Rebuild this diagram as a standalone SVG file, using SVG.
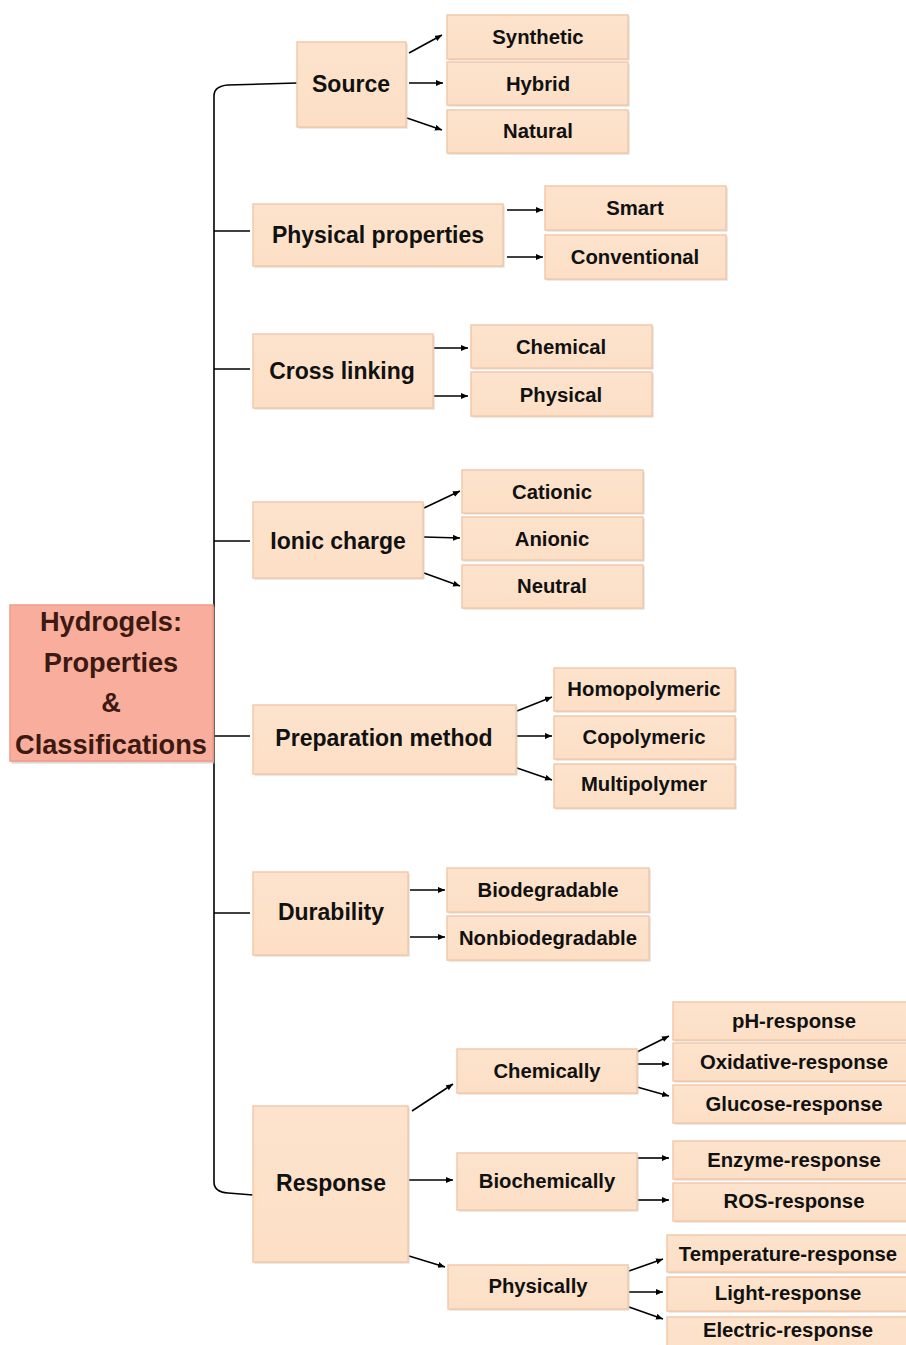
<svg xmlns="http://www.w3.org/2000/svg" width="906" height="1345" viewBox="0 0 906 1345">
<defs>
<marker id="ah" markerUnits="userSpaceOnUse" markerWidth="8" markerHeight="7" refX="7" refY="3" orient="auto">
<path d="M0,0 L7,3 L0,6 z" fill="#000"/>
</marker>
<linearGradient id="g" x1="0" y1="0" x2="0" y2="1">
<stop offset="0" stop-color="#fde3cd"/>
<stop offset="1" stop-color="#fcdfc5"/>
</linearGradient>
</defs>
<style>
.b{fill:url(#g);stroke:#f4c9ab;stroke-width:1.5}
.sh{fill:#cbc3be;opacity:0.7}
.r{fill:#f9ad9c;stroke:#ef9b88;stroke-width:1.5}
.t1{font-family:"Liberation Sans",Arial,sans-serif;font-weight:bold;font-size:23px;fill:#111;text-anchor:middle}
.t2{font-family:"Liberation Sans",Arial,sans-serif;font-weight:bold;font-size:20.3px;fill:#111;text-anchor:middle}
.t0{font-family:"Liberation Sans",Arial,sans-serif;font-weight:bold;font-size:27.2px;fill:#3c1a12;text-anchor:middle}
.c{fill:none;stroke:#000;stroke-width:1.6}
.a{fill:none;stroke:#000;stroke-width:1.6;marker-end:url(#ah)}
</style>
<rect width="906" height="1345" fill="#fff"/>

<g id="connectors">
<path class="c" d="M297,83 L228,85 Q214,86 214,96 L214,1182 Q214,1192 228,1193 L253,1195"/>
<path class="c" d="M214,231 L250,231"/>
<path class="c" d="M214,369 L250,369"/>
<path class="c" d="M214,541 L250,541"/>
<path class="c" d="M214,736 L250,736"/>
<path class="c" d="M214,913 L250,913"/>
<path class="a" d="M409,53 L442,35"/>
<path class="a" d="M409,83 L443,83"/>
<path class="a" d="M407,118 L442,130"/>
<path class="a" d="M507,210 L543,210"/>
<path class="a" d="M507,257 L543,257"/>
<path class="a" d="M434,348 L468,348"/>
<path class="a" d="M434,396 L468,396"/>
<path class="a" d="M424,508 L460,491"/>
<path class="a" d="M424,537 L460,538"/>
<path class="a" d="M424,573 L460,586"/>
<path class="a" d="M517,711 L552,697"/>
<path class="a" d="M517,736 L552,736"/>
<path class="a" d="M517,768 L552,780"/>
<path class="a" d="M410,890 L445,890"/>
<path class="a" d="M410,937 L445,937"/>
<path class="a" d="M412,1111 L453,1084"/>
<path class="a" d="M409,1180 L453,1180"/>
<path class="a" d="M409,1256 L445,1267"/>
<path class="a" d="M637,1052 L669,1036"/>
<path class="a" d="M637,1064 L669,1064"/>
<path class="a" d="M637,1087 L669,1096"/>
<path class="a" d="M637,1158 L669,1158"/>
<path class="a" d="M637,1200 L669,1200"/>
<path class="a" d="M629,1271 L663,1259"/>
<path class="a" d="M629,1292 L663,1292"/>
<path class="a" d="M629,1307 L663,1319"/>
</g>

<g id="root">
<rect class="sh" x="11.5" y="606.5" width="203" height="157"/>
<rect class="r" x="10" y="605" width="203" height="156"/>
<text class="t0" x="111" y="631">Hydrogels:</text>
<text class="t0" x="111" y="672">Properties</text>
<text class="t0" x="111" y="712">&amp;</text>
<text class="t0" x="111" y="754">Classifications</text>
</g>

<g id="source">
<rect class="sh" x="298.5" y="43.5" width="109" height="85"/>
<rect class="b" x="297" y="42" width="109" height="85"/>
<text class="t1" x="351" y="92">Source</text>
</g>
<g id="synthetic"><rect class="sh" x="448.5" y="16.5" width="181" height="44"/><rect class="b" x="447" y="15" width="181" height="44"/><text class="t2" x="538" y="44">Synthetic</text></g>
<g id="hybrid"><rect class="sh" x="448.5" y="63.5" width="181" height="43"/><rect class="b" x="447" y="62" width="181" height="43"/><text class="t2" x="538" y="91">Hybrid</text></g>
<g id="natural"><rect class="sh" x="448.5" y="111.5" width="181" height="43"/><rect class="b" x="447" y="110" width="181" height="43"/><text class="t2" x="538" y="138">Natural</text></g>

<g id="physical-properties">
<rect class="sh" x="254.5" y="205.5" width="250" height="62"/>
<rect class="b" x="253" y="204" width="250" height="62"/>
<text class="t1" x="378" y="243">Physical properties</text>
</g>
<g id="smart"><rect class="sh" x="546.5" y="187.5" width="181" height="44"/><rect class="b" x="545" y="186" width="181" height="44"/><text class="t2" x="635" y="215">Smart</text></g>
<g id="conventional"><rect class="sh" x="546.5" y="236.5" width="181" height="44"/><rect class="b" x="545" y="235" width="181" height="44"/><text class="t2" x="635" y="264">Conventional</text></g>

<g id="cross-linking">
<rect class="sh" x="254.5" y="335.5" width="180" height="74"/>
<rect class="b" x="253" y="334" width="180" height="74"/>
<text class="t1" x="342" y="379">Cross linking</text>
</g>
<g id="chemical"><rect class="sh" x="472.5" y="326.5" width="181" height="43"/><rect class="b" x="471" y="325" width="181" height="43"/><text class="t2" x="561" y="354">Chemical</text></g>
<g id="physical"><rect class="sh" x="472.5" y="373.5" width="181" height="44"/><rect class="b" x="471" y="372" width="181" height="44"/><text class="t2" x="561" y="402">Physical</text></g>

<g id="ionic-charge">
<rect class="sh" x="254.5" y="503.5" width="170" height="76"/>
<rect class="b" x="253" y="502" width="170" height="76"/>
<text class="t1" x="338" y="549">Ionic charge</text>
</g>
<g id="cationic"><rect class="sh" x="463.5" y="471.5" width="181" height="43"/><rect class="b" x="462" y="470" width="181" height="43"/><text class="t2" x="552" y="499">Cationic</text></g>
<g id="anionic"><rect class="sh" x="463.5" y="518.5" width="181" height="43"/><rect class="b" x="462" y="517" width="181" height="43"/><text class="t2" x="552" y="546">Anionic</text></g>
<g id="neutral"><rect class="sh" x="463.5" y="566.5" width="181" height="43"/><rect class="b" x="462" y="565" width="181" height="43"/><text class="t2" x="552" y="593">Neutral</text></g>

<g id="preparation-method">
<rect class="sh" x="254.5" y="706.5" width="263" height="69"/>
<rect class="b" x="253" y="705" width="263" height="69"/>
<text class="t1" x="384" y="746">Preparation method</text>
</g>
<g id="homopolymeric"><rect class="sh" x="555.5" y="669.5" width="181" height="43"/><rect class="b" x="554" y="668" width="181" height="43"/><text class="t2" x="644" y="696">Homopolymeric</text></g>
<g id="copolymeric"><rect class="sh" x="555.5" y="717.5" width="181" height="43"/><rect class="b" x="554" y="716" width="181" height="43"/><text class="t2" x="644" y="744">Copolymeric</text></g>
<g id="multipolymer"><rect class="sh" x="555.5" y="765.5" width="181" height="44"/><rect class="b" x="554" y="764" width="181" height="44"/><text class="t2" x="644" y="791">Multipolymer</text></g>

<g id="durability">
<rect class="sh" x="254.5" y="873.5" width="155" height="83"/>
<rect class="b" x="253" y="872" width="155" height="83"/>
<text class="t1" x="331" y="920">Durability</text>
</g>
<g id="biodegradable"><rect class="sh" x="448.5" y="869.5" width="202" height="44"/><rect class="b" x="447" y="868" width="202" height="44"/><text class="t2" x="548" y="897">Biodegradable</text></g>
<g id="nonbiodegradable"><rect class="sh" x="448.5" y="917.5" width="202" height="44"/><rect class="b" x="447" y="916" width="202" height="44"/><text class="t2" x="548" y="945">Nonbiodegradable</text></g>

<g id="response">
<rect class="sh" x="254.5" y="1107.5" width="155" height="156"/>
<rect class="b" x="253" y="1106" width="155" height="156"/>
<text class="t1" x="331" y="1191">Response</text>
</g>
<g id="chemically"><rect class="sh" x="458.5" y="1050.5" width="180" height="44"/><rect class="b" x="457" y="1049" width="180" height="44"/><text class="t2" x="547" y="1078">Chemically</text></g>
<g id="biochemically"><rect class="sh" x="458.5" y="1154.5" width="180" height="57"/><rect class="b" x="457" y="1153" width="180" height="57"/><text class="t2" x="547" y="1188">Biochemically</text></g>
<g id="physically"><rect class="sh" x="449.5" y="1266.5" width="180" height="44"/><rect class="b" x="448" y="1265" width="180" height="44"/><text class="t2" x="538" y="1293">Physically</text></g>

<g id="ph-response"><rect class="sh" x="674.5" y="1003.5" width="240" height="38"/><rect class="b" x="673" y="1002" width="240" height="38"/><text class="t2" x="794" y="1028">pH-response</text></g>
<g id="oxidative-response"><rect class="sh" x="674.5" y="1044.5" width="240" height="38"/><rect class="b" x="673" y="1043" width="240" height="38"/><text class="t2" x="794" y="1069">Oxidative-response</text></g>
<g id="glucose-response"><rect class="sh" x="674.5" y="1086.5" width="240" height="38"/><rect class="b" x="673" y="1085" width="240" height="38"/><text class="t2" x="794" y="1111">Glucose-response</text></g>
<g id="enzyme-response"><rect class="sh" x="674.5" y="1142.5" width="240" height="38"/><rect class="b" x="673" y="1141" width="240" height="38"/><text class="t2" x="794" y="1167">Enzyme-response</text></g>
<g id="ros-response"><rect class="sh" x="674.5" y="1184.5" width="240" height="38"/><rect class="b" x="673" y="1183" width="240" height="38"/><text class="t2" x="794" y="1208">ROS-response</text></g>
<g id="temperature-response"><rect class="sh" x="668.5" y="1236.5" width="250" height="37"/><rect class="b" x="667" y="1235" width="250" height="37"/><text class="t2" x="788" y="1261">Temperature-response</text></g>
<g id="light-response"><rect class="sh" x="668.5" y="1278.5" width="250" height="34"/><rect class="b" x="667" y="1277" width="250" height="34"/><text class="t2" x="788" y="1300">Light-response</text></g>
<g id="electric-response"><rect class="sh" x="668.5" y="1318.5" width="250" height="40"/><rect class="b" x="667" y="1317" width="250" height="40"/><text class="t2" x="788" y="1337">Electric-response</text></g>
</svg>
